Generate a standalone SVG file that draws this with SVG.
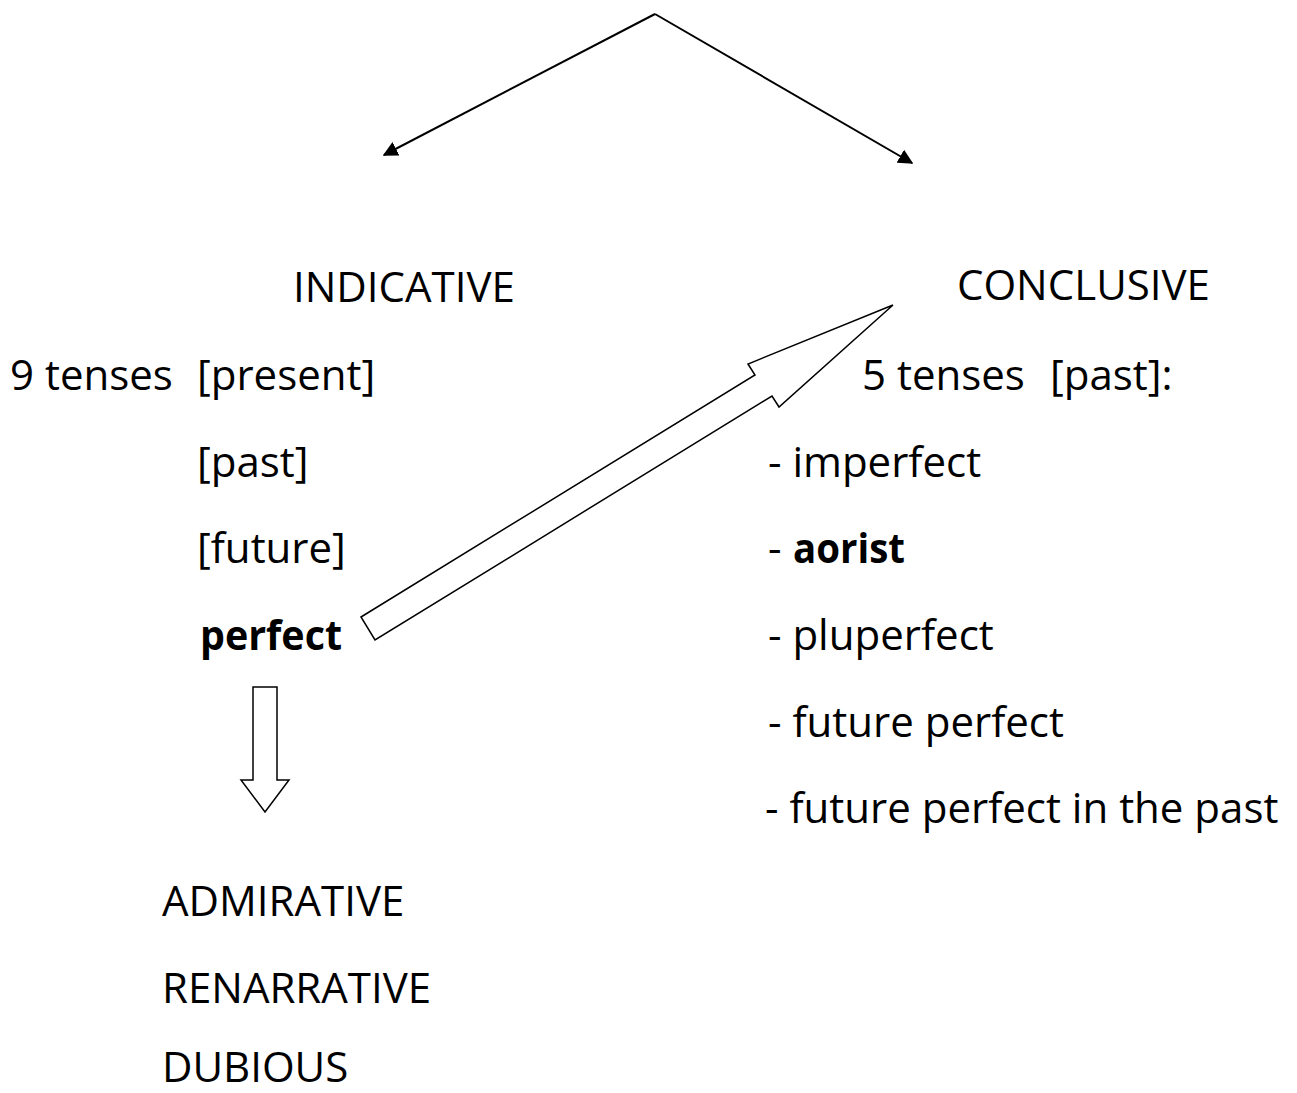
<svg xmlns="http://www.w3.org/2000/svg" width="1297" height="1093" viewBox="0 0 1297 1093">
  <style>
    text { font-family: "Open Sans", "Liberation Sans", sans-serif; font-size: 42px; fill: #000; }
    .b { font-weight: bold; }
    .line { stroke: #000; stroke-width: 2; fill: none; }
    .block { stroke: #000; stroke-width: 1.5; fill: #fff; stroke-linejoin: miter; }
  </style>
  <defs>
    <marker id="tri" viewBox="0 0 10 10" refX="9" refY="5" markerWidth="15" markerHeight="15" markerUnits="userSpaceOnUse" orient="auto">
      <path d="M0,0 L10,5 L0,10 Z" fill="#000"/>
    </marker>
  </defs>

  <g id="connectors">
    <line class="line" x1="655" y1="14" x2="384" y2="155" marker-end="url(#tri)"/>
    <line class="line" x1="655" y1="14" x2="912" y2="163" marker-end="url(#tri)"/>
    <polygon id="arrow-perfect-conclusive" class="block" points="361,617 755,375 748,364 893,305 779,407 772,396 375,640"/>
    <polygon id="arrow-perfect-down" class="block" points="253,687 277,687 277,780 289,780 265,812 241,780 253,780"/>
  </g>

  <g id="indicative"><text x="293" y="302">INDICATIVE</text></g>
  <g id="conclusive"><text x="957" y="300">CONCLUSIVE</text></g>

  <g id="indicative-tenses">
    <text x="10" y="390">9 tenses</text>
    <text x="197" y="390">[present]</text>
    <text x="197" y="477">[past]</text>
    <text x="197" y="563">[future]</text>
    <text class="b" x="200" y="650" textLength="142" lengthAdjust="spacingAndGlyphs">perfect</text>
  </g>

  <g id="conclusive-tenses">
    <text x="862" y="390">5 tenses</text>
    <text x="1050" y="390">[past]:</text>
    <text x="768" y="477">- imperfect</text>
    <text x="768" y="563">- </text>
    <text class="b" x="793" y="563" textLength="112" lengthAdjust="spacingAndGlyphs">aorist</text>
    <text x="768" y="650">- pluperfect</text>
    <text x="768" y="737">- future perfect</text>
    <text x="765" y="823">- future perfect in the past</text>
  </g>

  <g id="moods">
    <text x="162" y="916">ADMIRATIVE</text>
    <text x="162" y="1003">RENARRATIVE</text>
    <text x="162" y="1082">DUBIOUS</text>
  </g>
</svg>
